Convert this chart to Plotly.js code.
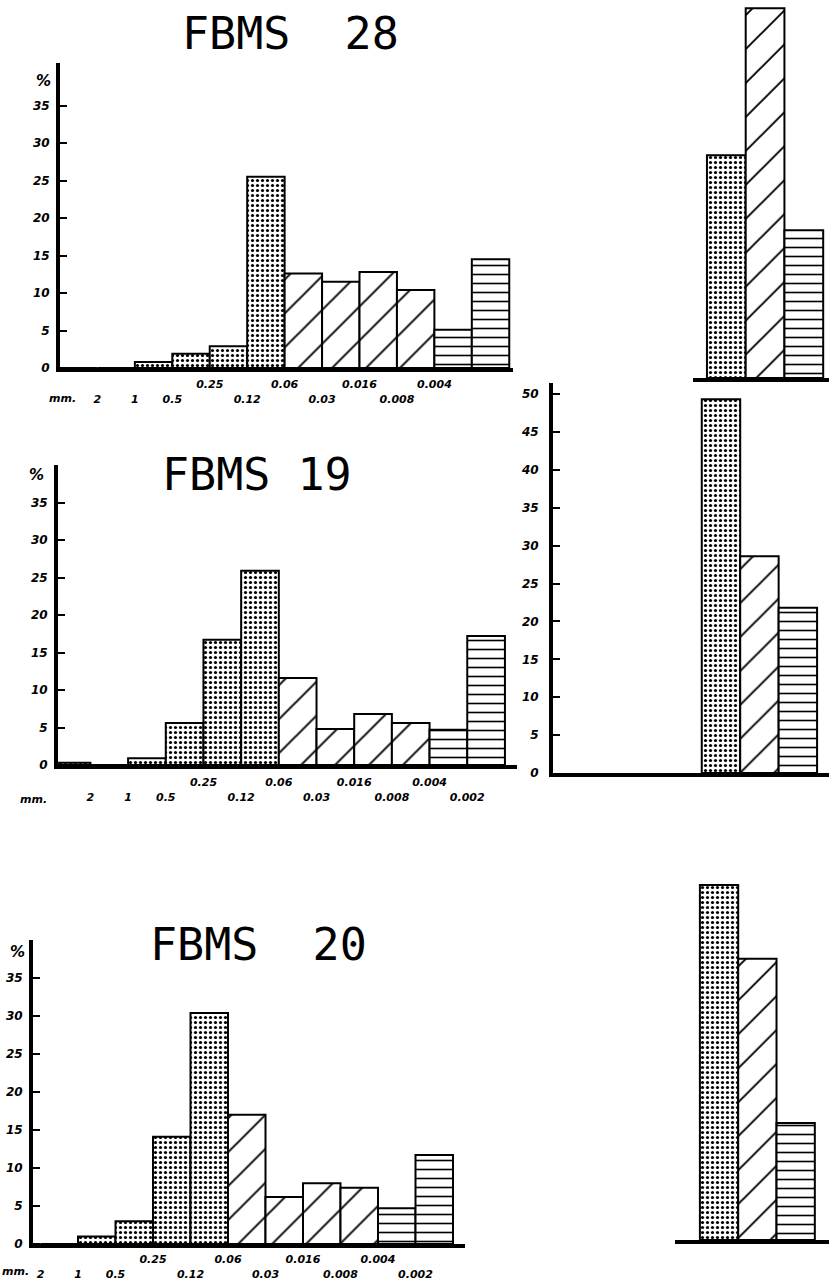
<!DOCTYPE html>
<html>
<head>
<meta charset="utf-8">
<script src="https://cdn.plot.ly/plotly-3.0.1.min.js"></script>
<style>html,body{margin:0;padding:0;background:#fff;}#chart{width:829px;height:1282px;}</style>
</head>
<body>
<div id="chart"></div>
<script>
// ---- data ----
const bins = ['>2','2-1','1-0.5','0.5-0.25','0.25-0.12','0.12-0.06','0.06-0.03','0.03-0.016','0.016-0.008','0.008-0.004','0.004-0.002','<0.002'];
const binClass = ['sand','sand','sand','sand','sand','sand','silt','silt','silt','silt','clay','clay'];
const fbms28 = [0, 0, 0.8, 1.9, 2.9, 25.5, 12.6, 11.5, 12.8, 10.4, 5.1, 14.5];
const fbms19 = [0.3, 0, 0.9, 5.6, 16.7, 25.9, 11.6, 4.8, 6.8, 5.6, 4.7, 17.2];
const fbms20 = [0, 0, 1.0, 3.0, 14.1, 30.4, 17.0, 6.2, 8.0, 7.4, 4.7, 11.7];
const classes = ['sand','silt','clay'];
const tot28 = [29.7, 49.3, 19.7];
const tot19 = [49.3, 28.6, 21.8];
const tot20 = [46.7, 37.0, 15.4];
const boundaryLabels = ['2','1','0.5','0.25','0.12','0.06','0.03','0.016','0.008','0.004','0.002'];
const upperRow = ['0.25','0.06','0.016','0.004'];
const yTicks = [0,5,10,15,20,25,30,35];
const yTicksRight = [0,5,10,15,20,25,30,35,40,45,50];
const titles = ['FBMS  28','FBMS 19','FBMS  20'];

// ---- helpers ----
const W = 829, H = 1282;
const px = v => v / W;
const py = v => 1 - v / H;

const patterns = {
  sand: {shape: '.', size: 5, solidity: 0.32, fgcolor: '#000', bgcolor: '#fff', fillmode: 'replace'},
  silt: {shape: '/', size: 24, solidity: 0.08, fgcolor: '#000', bgcolor: '#fff', fillmode: 'replace'},
  clay: {shape: '-', size: 9, solidity: 0.18, fgcolor: '#000', bgcolor: '#fff', fillmode: 'replace'}
};

const traces = [];
function histTraces(values, xa, ya) {
  classes.forEach(c => {
    const xs = [], ys = [];
    values.forEach((v, i) => { if (binClass[i] === c) { xs.push(i + 0.5); ys.push(v); } });
    traces.push({type: 'bar', x: xs, y: ys, width: 1, xaxis: xa, yaxis: ya,
      marker: {color: '#fff', line: {color: '#000', width: 2}, pattern: patterns[c]},
      hoverinfo: 'skip', showlegend: false});
  });
}
function totTraces(values, xa, ya) {
  classes.forEach((c, i) => {
    traces.push({type: 'bar', x: [i], y: [values[i]], width: 1, xaxis: xa, yaxis: ya,
      marker: {color: '#fff', line: {color: '#000', width: 2}, pattern: patterns[c]},
      hoverinfo: 'skip', showlegend: false});
  });
}
histTraces(fbms28, 'x', 'y');
histTraces(fbms19, 'x2', 'y2');
histTraces(fbms20, 'x3', 'y3');
totTraces(tot28, 'x4', 'y4');
totTraces(tot19, 'x5', 'y5');
totTraces(tot20, 'x6', 'y6');

const tickFont = {family: 'DejaVu Sans', size: 12, color: '#000', style: 'italic', weight: 'bold'};
const xTickFont = {family: 'DejaVu Sans', size: 11, color: '#000', style: 'italic', weight: 'bold'};

// two label rows: upper-row labels on the first line, the others on the second line
function rowText(labels) {
  return labels.map(l => upperRow.indexOf(l) >= 0 ? l : '<br>' + l);
}
function leftX(domain, range, labels, anchor, standoff) {
  return {domain: domain, range: range, anchor: anchor, showline: true, linewidth: 4, linecolor: '#000',
    showgrid: false, zeroline: false, ticks: '', tickmode: 'array',
    tickvals: labels.map(l => boundaryLabels.indexOf(l) + 1), ticktext: rowText(labels),
    tickfont: xTickFont, ticklabelstandoff: standoff, fixedrange: true};
}
function leftY(domain, range, vals, anchor) {
  return {domain: domain, range: range, anchor: anchor, showline: true, linewidth: 4, linecolor: '#000',
    showgrid: false, zeroline: false, ticks: 'inside', ticklen: 7, tickwidth: 2, tickcolor: '#000',
    tickmode: 'array', tickvals: vals, ticktext: vals.map(String), tickfont: tickFont,
    ticklabelstandoff: 4, fixedrange: true};
}
function baseX(domain, range, anchor) {
  return {domain: domain, range: range, anchor: anchor, showline: true, linewidth: 4, linecolor: '#000',
    showgrid: false, zeroline: false, ticks: '', showticklabels: false, fixedrange: true};
}
function hiddenY(domain, range, anchor) {
  return {domain: domain, range: range, anchor: anchor, visible: false, fixedrange: true};
}

const labels1 = boundaryLabels.slice(0, 10);   // 0.002 not shown in FBMS 28
const d1x = [px(60), px(513)], d1y = [py(368), py(63)];
const d2x = [px(58), px(517)], d2y = [py(765), py(465)];
const d3x = [px(33), px(465)], d3y = [py(1244), py(940)];

function note(text, x, y, font) {
  return {text: text, x: px(x), y: py(y), xref: 'paper', yref: 'paper', showarrow: false,
    xanchor: 'center', yanchor: 'middle', font: font};
}
const titleFont = {family: 'DejaVu Sans Mono', size: 45, color: '#000'};
const pctFont = {family: 'DejaVu Sans', size: 15, color: '#000', style: 'italic', weight: 'bold'};

const layout = {
  width: W, height: H, margin: {l: 0, r: 0, t: 0, b: 0},
  paper_bgcolor: '#fff', plot_bgcolor: 'rgba(0,0,0,0)',
  barmode: 'overlay', bargap: 0, showlegend: false,
  xaxis: leftX(d1x, [0, 12.1], labels1, 'y', 3),
  yaxis: leftY(d1y, [0, 40.67], yTicks, 'x'),
  xaxis2: leftX(d2x, [0.14, 12.32], boundaryLabels, 'y2', 4),
  yaxis2: leftY(d2y, [0, 40], yTicks, 'x2'),
  xaxis3: leftX(d3x, [0.8, 12.32], boundaryLabels, 'y3', 2),
  yaxis3: leftY(d3y, [0, 40], yTicks, 'x3'),
  xaxis4: baseX([px(693), 1], [-0.86, 2.65], 'y4'),
  yaxis4: hiddenY([py(378), 1], [0, 50.4], 'x4'),
  xaxis5: baseX([px(553), 1], [-4.37, 2.81], 'y5'),
  yaxis5: Object.assign(leftY([py(773), py(383)], [0, 51.45], yTicksRight, 'x5'), {ticklabelstandoff: 8}),
  xaxis6: baseX([px(675), 1], [-1.15, 2.87], 'y6'),
  yaxis6: hiddenY([py(1240), py(860)], [0, 50], 'x6'),
  annotations: [
    note(titles[0], 290, 34, titleFont),
    note(titles[1], 257, 474, titleFont),
    note(titles[2], 258, 944, titleFont),
    note('%', 43, 81, pctFont),
    note('%', 36, 475, pctFont),
    note('%', 17, 952, pctFont),
    note('mm.', 62, 398, xTickFont),
    note('mm.', 33, 799, xTickFont),
    note('mm.', 15, 1271, xTickFont)
  ]
};

Plotly.newPlot('chart', traces, layout, {staticPlot: true, displayModeBar: false});
</script>
</body>
</html>
